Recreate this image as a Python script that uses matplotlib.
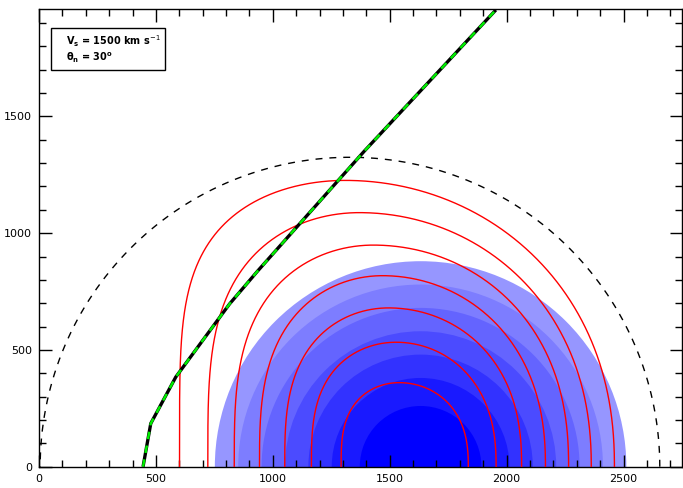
import numpy as np
import matplotlib
matplotlib.use("Agg")
import matplotlib.pyplot as plt
from matplotlib.patches import Circle, Rectangle
from matplotlib.ticker import MultipleLocator

# ---- data -------------------------------------------------------------
# shaded discs (all centred on the x axis), largest first
disc_center = 1632
disc_radii = [880, 780, 680, 580, 480, 380, 260]
disc_colors = ["#9696ff", "#7d7dff", "#6464ff", "#4b4bff", "#3232ff", "#1919ff", "#0000ff"]

# red fronts: foot positions, apex position/height and flank shape exponents
front_left = [1292, 1165, 1051, 943, 835, 722, 601]
front_right = [1836, 1955, 2064, 2166, 2265, 2362, 2461]
front_apex_x = [1540, 1527, 1495, 1469, 1430, 1370, 1310]
front_apex_y = [360, 533, 680, 818, 949, 1088, 1226]
front_left_exp = [3.0, 3.0, 3.0, 3.0, 3.2, 3.6, 4.6]
front_right_exp = [2.5, 2.4, 2.4, 2.3, 2.3, 2.2, 2.2]

# outer dashed boundary (half circle on the x axis)
outer_center = 1330
outer_radius = 1325

# field line
field_x = [445, 478, 585, 815, 936, 1391, 1954]
field_y = [0, 185, 384, 697, 839, 1351, 1956]

x_limits = (0, 2750)
y_limits = (0, 1960)

# ---- figure ----------------------------------------------------------
fig = plt.figure(figsize=(6.83, 4.88), dpi=100)
ax = fig.add_axes([39 / 683, 1 - 466.7 / 488, 643 / 683, 457.7 / 488])

for r, c in zip(disc_radii, disc_colors):
    ax.add_patch(Circle((disc_center, 0), r, facecolor=c, edgecolor="none", zorder=1))


def flank(a, b, q, s):
    """Half of a front: |x/a|^2 + |y/b|^q = 1, sampled along s in [0, pi/2]."""
    y = b * np.sin(s)
    x = a * np.sqrt(np.clip(1.0 - np.sin(s) ** q, 0, None))
    return x, y


s = np.linspace(0, np.pi / 2, 400)
for xl, xr, px, py, ql, qr in zip(front_left, front_right, front_apex_x,
                                  front_apex_y, front_left_exp, front_right_exp):
    lx, ly = flank(px - xl, py, ql, s)
    rx, ry = flank(xr - px, py, qr, s)
    xs = np.concatenate([px - lx, (px + rx)[::-1]])
    ys = np.concatenate([ly, ry[::-1]])
    ax.plot(xs, ys, color="red", lw=1.0, zorder=3)

th = np.linspace(0, np.pi, 400)
ax.plot(outer_center + outer_radius * np.cos(th), outer_radius * np.sin(th),
        color="black", lw=1.0, dashes=(5, 5), zorder=3)

ax.plot(field_x, field_y, color="black", lw=2.4, zorder=4, solid_capstyle="butt")
ax.plot(field_x, field_y, color="#00ee00", lw=1.8, dashes=(3.0, 2.6), zorder=5)

ax.set_xlim(*x_limits)
ax.set_ylim(*y_limits)

ax.xaxis.set_major_locator(MultipleLocator(500))
ax.xaxis.set_minor_locator(MultipleLocator(100))
ax.yaxis.set_major_locator(MultipleLocator(500))
ax.yaxis.set_minor_locator(MultipleLocator(100))
ax.tick_params(which="both", direction="in", top=True, right=True,
               labelsize=8, width=1.0, color="black")
ax.tick_params(which="major", length=9, pad=5)
ax.tick_params(which="minor", length=5)
for sp in ax.spines.values():
    sp.set_linewidth(1.0)

# annotation box
ax.add_patch(Rectangle((0.0187, 0.8667), 0.1773, 0.0923, transform=ax.transAxes,
                       facecolor="white", edgecolor="black", lw=1.0, zorder=6))
ax.text(0.042, 0.9286, r"$\mathbf{V_s}$ = 1500 km s$^{-1}$", transform=ax.transAxes,
        fontsize=7, fontweight="bold", va="center", ha="left", zorder=7)
ax.text(0.042, 0.893, r"$\mathbf{\theta_n}$ = 30$^{\mathbf{o}}$", transform=ax.transAxes,
        fontsize=7, fontweight="bold", va="center", ha="left", zorder=7)

fig.savefig("out.png", dpi=100)
